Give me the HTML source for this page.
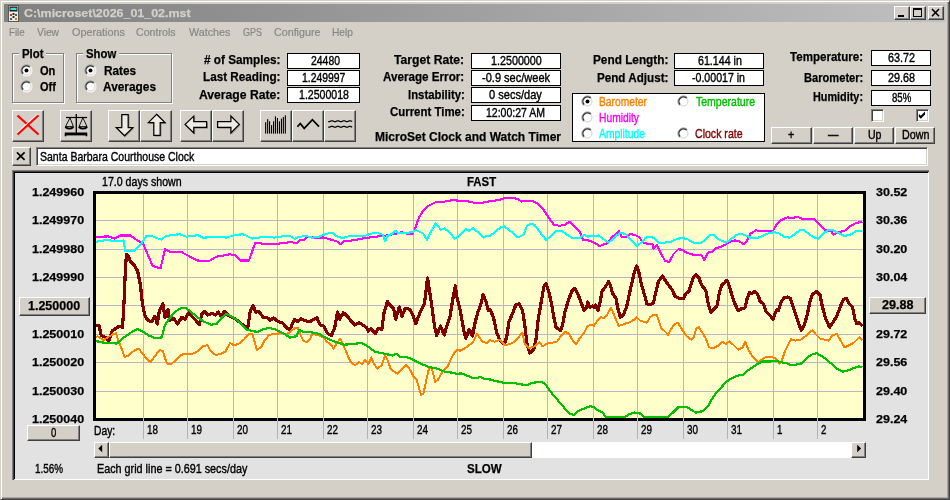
<!DOCTYPE html>
<html><head><meta charset="utf-8"><title>MicroSet</title><style>
html,body{margin:0;padding:0;}
body{width:950px;height:500px;overflow:hidden;background:#d4d0c8;position:relative;font-family:"Liberation Sans",sans-serif;}
.abs,.win,.title,.btn,.grp,.vbox,.sunk,.panel{position:absolute;box-sizing:border-box;}
.win{border:1px solid;border-color:#d4d0c8 #404040 #404040 #d4d0c8;box-shadow:inset 1px 1px 0 #fff,inset -1px -1px 0 #6c6c6c,inset -2px -2px 0 #a8a6a0;}
.title{background:linear-gradient(to right,#808080,#c0c0c0);}
.btn{background:#d4d0c8;border:1px solid;border-color:#fff #404040 #404040 #fff;box-shadow:inset -1px -1px 0 #808080,inset 1px 1px 0 #d4d0c8;}
.grp{border:1px solid #808080;box-shadow:1px 1px 0 #fff,inset 1px 1px 0 #fff;}
.vbox{background:#fff;border:1px solid #000;}
.sunk{border:1px solid;border-color:#808080 #fff #fff #808080;box-shadow:inset 1px 1px 0 #404040,inset -1px -1px 0 #d4d0c8;}
.panel{background:#e2e2e2;border-style:solid;border-width:3px 1px 1px 3px;border-color:#000 #fff #fff #000;box-shadow:inset 0 0 0 0 #000;}
.panel:before{content:"";position:absolute;left:-3px;top:-3px;right:-1px;bottom:-1px;border-left:1px solid #808080;border-top:1px solid #808080;}
.panel:after{content:"";position:absolute;left:-2px;top:-2px;right:-1px;bottom:-1px;border-left:1px solid #404040;border-top:1px solid #404040;}
.t{position:absolute;white-space:nowrap;transform-origin:0 0;-webkit-text-stroke:0.25px currentColor;}
</style></head><body>
<div class="win" style="left:0px;top:0px;width:950px;height:500px;"></div>
<div class="title" style="left:4px;top:4px;width:941px;height:18px;"></div>
<svg class="abs" style="left:7px;top:5px" width="13" height="17" viewBox="0 0 13 17">
<rect x="1.5" y="0.5" width="10" height="16" fill="#f0ead8" stroke="#5a5a50" stroke-width="1"/>
<rect x="2.5" y="1.5" width="8" height="5" fill="#202020"/>
<rect x="3.5" y="2.8" width="6" height="2.2" fill="#40d8f0"/>
<rect x="3" y="9" width="2" height="2" fill="#c03020"/><rect x="8" y="9" width="2" height="2" fill="#2060c0"/>
<rect x="5.5" y="8" width="2" height="2" fill="#303030"/><rect x="5.5" y="11" width="2" height="2" fill="#303030"/>
<rect x="3" y="13" width="2" height="2" fill="#2060c0"/><rect x="8" y="13" width="2" height="2" fill="#c08020"/>
</svg>
<div class="btn" style="left:894px;top:6px;width:16px;height:14px;"><svg width="12" height="10" style="position:absolute;left:0;top:0"><rect x="3" y="8" width="6" height="2" fill="#000"/></svg></div>
<div class="btn" style="left:910px;top:6px;width:16px;height:14px;"><svg width="12" height="10" style="position:absolute;left:0;top:0"><rect x="2.5" y="1.5" width="8" height="8" fill="none" stroke="#000"/><rect x="2" y="1" width="9" height="2" fill="#000"/></svg></div>
<div class="btn" style="left:928px;top:6px;width:16px;height:14px;"><svg width="12" height="10" style="position:absolute;left:0;top:0"><path d="M3 2 L10 9.2 M10 2 L3 9.2" stroke="#000" stroke-width="1.6" fill="none"/></svg></div>
<div class="grp" style="left:12px;top:53px;width:52px;height:50px;"></div><div class="abs" style="left:19px;top:52px;width:27px;height:4px;background:#d4d0c8;"></div>
<div class="grp" style="left:76px;top:53px;width:96px;height:50px;"></div><div class="abs" style="left:83px;top:52px;width:36px;height:4px;background:#d4d0c8;"></div>
<svg class="abs" style="left:20px;top:64px" width="13" height="13" viewBox="0 0 13 13">
<circle cx="6.5" cy="6.5" r="5.5" fill="#fff"/>
<path d="M2.6 10.4 A5.5 5.5 0 0 1 10.4 2.6" fill="none" stroke="#808080" stroke-width="1"/>
<path d="M10.4 2.6 A5.5 5.5 0 0 1 2.6 10.4" fill="none" stroke="#fff" stroke-width="1"/>
<path d="M3.3 9.7 A4.5 4.5 0 0 1 9.7 3.3" fill="none" stroke="#303030" stroke-width="1.3"/>
<path d="M9.7 3.3 A4.5 4.5 0 0 1 3.3 9.7" fill="none" stroke="#d4d0c8" stroke-width="1"/>
<circle cx="6.5" cy="6.5" r="2" fill="#000"/></svg>
<svg class="abs" style="left:20px;top:80px" width="13" height="13" viewBox="0 0 13 13">
<circle cx="6.5" cy="6.5" r="5.5" fill="#fff"/>
<path d="M2.6 10.4 A5.5 5.5 0 0 1 10.4 2.6" fill="none" stroke="#808080" stroke-width="1"/>
<path d="M10.4 2.6 A5.5 5.5 0 0 1 2.6 10.4" fill="none" stroke="#fff" stroke-width="1"/>
<path d="M3.3 9.7 A4.5 4.5 0 0 1 9.7 3.3" fill="none" stroke="#303030" stroke-width="1.3"/>
<path d="M9.7 3.3 A4.5 4.5 0 0 1 3.3 9.7" fill="none" stroke="#d4d0c8" stroke-width="1"/>
</svg>
<svg class="abs" style="left:84px;top:64px" width="13" height="13" viewBox="0 0 13 13">
<circle cx="6.5" cy="6.5" r="5.5" fill="#fff"/>
<path d="M2.6 10.4 A5.5 5.5 0 0 1 10.4 2.6" fill="none" stroke="#808080" stroke-width="1"/>
<path d="M10.4 2.6 A5.5 5.5 0 0 1 2.6 10.4" fill="none" stroke="#fff" stroke-width="1"/>
<path d="M3.3 9.7 A4.5 4.5 0 0 1 9.7 3.3" fill="none" stroke="#303030" stroke-width="1.3"/>
<path d="M9.7 3.3 A4.5 4.5 0 0 1 3.3 9.7" fill="none" stroke="#d4d0c8" stroke-width="1"/>
<circle cx="6.5" cy="6.5" r="2" fill="#000"/></svg>
<svg class="abs" style="left:84px;top:80px" width="13" height="13" viewBox="0 0 13 13">
<circle cx="6.5" cy="6.5" r="5.5" fill="#fff"/>
<path d="M2.6 10.4 A5.5 5.5 0 0 1 10.4 2.6" fill="none" stroke="#808080" stroke-width="1"/>
<path d="M10.4 2.6 A5.5 5.5 0 0 1 2.6 10.4" fill="none" stroke="#fff" stroke-width="1"/>
<path d="M3.3 9.7 A4.5 4.5 0 0 1 9.7 3.3" fill="none" stroke="#303030" stroke-width="1.3"/>
<path d="M9.7 3.3 A4.5 4.5 0 0 1 3.3 9.7" fill="none" stroke="#d4d0c8" stroke-width="1"/>
</svg>
<div class="vbox" style="left:287px;top:53px;width:73px;height:16px;"></div>
<div class="vbox" style="left:287px;top:70px;width:73px;height:16px;"></div>
<div class="vbox" style="left:287px;top:87px;width:73px;height:16px;"></div>
<div class="vbox" style="left:471px;top:53px;width:90px;height:16px;"></div>
<div class="vbox" style="left:471px;top:70px;width:90px;height:16px;"></div>
<div class="vbox" style="left:471px;top:87px;width:90px;height:16px;"></div>
<div class="vbox" style="left:471px;top:105px;width:90px;height:16px;"></div>
<div class="vbox" style="left:674px;top:53px;width:90px;height:16px;"></div>
<div class="vbox" style="left:674px;top:70px;width:90px;height:16px;"></div>
<div class="vbox" style="left:871px;top:50px;width:60px;height:16px;"></div>
<div class="vbox" style="left:871px;top:70px;width:60px;height:16px;"></div>
<div class="vbox" style="left:871px;top:90px;width:60px;height:16px;"></div>
<div class="vbox" style="left:572px;top:93px;width:193px;height:49px;"></div>
<svg class="abs" style="left:581px;top:95px" width="13" height="13" viewBox="0 0 13 13">
<circle cx="6.5" cy="6.5" r="5.5" fill="#fff"/>
<path d="M2.6 10.4 A5.5 5.5 0 0 1 10.4 2.6" fill="none" stroke="#808080" stroke-width="1"/>
<path d="M10.4 2.6 A5.5 5.5 0 0 1 2.6 10.4" fill="none" stroke="#fff" stroke-width="1"/>
<path d="M3.3 9.7 A4.5 4.5 0 0 1 9.7 3.3" fill="none" stroke="#303030" stroke-width="1.3"/>
<path d="M9.7 3.3 A4.5 4.5 0 0 1 3.3 9.7" fill="none" stroke="#d4d0c8" stroke-width="1"/>
<circle cx="6.5" cy="6.5" r="2" fill="#000"/></svg>
<svg class="abs" style="left:581px;top:111px" width="13" height="13" viewBox="0 0 13 13">
<circle cx="6.5" cy="6.5" r="5.5" fill="#fff"/>
<path d="M2.6 10.4 A5.5 5.5 0 0 1 10.4 2.6" fill="none" stroke="#808080" stroke-width="1"/>
<path d="M10.4 2.6 A5.5 5.5 0 0 1 2.6 10.4" fill="none" stroke="#fff" stroke-width="1"/>
<path d="M3.3 9.7 A4.5 4.5 0 0 1 9.7 3.3" fill="none" stroke="#303030" stroke-width="1.3"/>
<path d="M9.7 3.3 A4.5 4.5 0 0 1 3.3 9.7" fill="none" stroke="#d4d0c8" stroke-width="1"/>
</svg>
<svg class="abs" style="left:581px;top:127px" width="13" height="13" viewBox="0 0 13 13">
<circle cx="6.5" cy="6.5" r="5.5" fill="#fff"/>
<path d="M2.6 10.4 A5.5 5.5 0 0 1 10.4 2.6" fill="none" stroke="#808080" stroke-width="1"/>
<path d="M10.4 2.6 A5.5 5.5 0 0 1 2.6 10.4" fill="none" stroke="#fff" stroke-width="1"/>
<path d="M3.3 9.7 A4.5 4.5 0 0 1 9.7 3.3" fill="none" stroke="#303030" stroke-width="1.3"/>
<path d="M9.7 3.3 A4.5 4.5 0 0 1 3.3 9.7" fill="none" stroke="#d4d0c8" stroke-width="1"/>
</svg>
<svg class="abs" style="left:677px;top:95px" width="13" height="13" viewBox="0 0 13 13">
<circle cx="6.5" cy="6.5" r="5.5" fill="#fff"/>
<path d="M2.6 10.4 A5.5 5.5 0 0 1 10.4 2.6" fill="none" stroke="#808080" stroke-width="1"/>
<path d="M10.4 2.6 A5.5 5.5 0 0 1 2.6 10.4" fill="none" stroke="#fff" stroke-width="1"/>
<path d="M3.3 9.7 A4.5 4.5 0 0 1 9.7 3.3" fill="none" stroke="#303030" stroke-width="1.3"/>
<path d="M9.7 3.3 A4.5 4.5 0 0 1 3.3 9.7" fill="none" stroke="#d4d0c8" stroke-width="1"/>
</svg>
<svg class="abs" style="left:677px;top:127px" width="13" height="13" viewBox="0 0 13 13">
<circle cx="6.5" cy="6.5" r="5.5" fill="#fff"/>
<path d="M2.6 10.4 A5.5 5.5 0 0 1 10.4 2.6" fill="none" stroke="#808080" stroke-width="1"/>
<path d="M10.4 2.6 A5.5 5.5 0 0 1 2.6 10.4" fill="none" stroke="#fff" stroke-width="1"/>
<path d="M3.3 9.7 A4.5 4.5 0 0 1 9.7 3.3" fill="none" stroke="#303030" stroke-width="1.3"/>
<path d="M9.7 3.3 A4.5 4.5 0 0 1 3.3 9.7" fill="none" stroke="#d4d0c8" stroke-width="1"/>
</svg>
<div class="sunk" style="left:871px;top:109px;width:13px;height:13px;background:#fff;"><svg width="13" height="13" style="position:absolute;left:-2px;top:-2px"></svg></div>
<div class="sunk" style="left:916px;top:109px;width:13px;height:13px;background:#fff;"><svg width="13" height="13" style="position:absolute;left:-2px;top:-2px"><path d="M3.8 5.8 L5.8 7.8 L10 3.6 L10 6.6 L5.8 10.8 L3.8 8.8 Z" fill="#000"/></svg></div>
<div class="btn" style="left:771px;top:127px;width:41px;height:17px;"></div>
<div class="btn" style="left:813px;top:127px;width:40px;height:17px;"></div>
<div class="btn" style="left:854px;top:127px;width:40px;height:17px;"></div>
<div class="btn" style="left:895px;top:127px;width:40px;height:17px;"></div>
<div class="btn" style="left:12px;top:110px;width:32px;height:32px;"><svg width="32" height="32" viewBox="0 0 32 32" style="position:absolute;left:-1px;top:-1px"><path d="M5.5 5.5 L26.5 24.5" stroke="#ff0000" stroke-width="2.2"/><path d="M5 23.3 L26 4" stroke="#fff" stroke-width="1.4"/><path d="M5.5 24.5 L26.5 5.2" stroke="#ff0000" stroke-width="2.2"/></svg></div>
<div class="btn" style="left:60px;top:110px;width:32px;height:32px;"><svg width="32" height="32" viewBox="0 0 32 32" style="position:absolute;left:-1px;top:-1px"><path d="M16.3 4 V23" stroke="#000" stroke-width="1.3"/><path d="M6 7.5 H27.1" stroke="#000" stroke-width="1.2"/>
<path d="M10 7.8 L5.5 16.6 H13.4 Z" fill="none" stroke="#000" stroke-width="0.9"/><path d="M5.2 17 Q9.4 20.4 13.6 17" fill="none" stroke="#000" stroke-width="1.7"/>
<path d="M22.9 7.8 L19 16.6 H27 Z" fill="none" stroke="#000" stroke-width="0.9"/><path d="M18.7 17 Q23 20.4 27.3 17" fill="none" stroke="#000" stroke-width="1.7"/>
<rect x="4.8" y="22.5" width="22.4" height="2.9" fill="#000"/><rect x="4.8" y="24" width="1.5" height="2.3" fill="#000"/><rect x="25.7" y="24" width="1.5" height="2.3" fill="#000"/></svg></div>
<div class="btn" style="left:108px;top:110px;width:32px;height:32px;"><svg width="32" height="32" viewBox="0 0 32 32" style="position:absolute;left:-1px;top:-1px"><path d="M14.7 5.6 L21.1 5.6 L21.1 18.6 L25.7 18.6 L17.5 26.7 L9.2 18.6 L14.7 18.6 Z" fill="none" stroke="#9a968e" stroke-width="1"/><path d="M13.8 4.7 L20.2 4.7 L20.2 17.7 L24.8 17.7 L16.6 25.8 L8.3 17.7 L13.8 17.7 Z" fill="#eeebe5" stroke="#000" stroke-width="1.25" stroke-linejoin="miter"/></svg></div>
<div class="btn" style="left:140px;top:110px;width:32px;height:32px;"><svg width="32" height="32" viewBox="0 0 32 32" style="position:absolute;left:-1px;top:-1px"><path d="M17.5 5.2 L25.9 13.5 L21.1 13.5 L21.1 26.2 L14.7 26.2 L14.7 13.5 L9.3 13.5 Z" fill="none" stroke="#9a968e" stroke-width="1"/><path d="M16.6 4.3 L25 12.6 L20.2 12.6 L20.2 25.3 L13.8 25.3 L13.8 12.6 L8.4 12.6 Z" fill="#eeebe5" stroke="#000" stroke-width="1.25" stroke-linejoin="miter"/></svg></div>
<div class="btn" style="left:180px;top:110px;width:32px;height:32px;"><svg width="32" height="32" viewBox="0 0 32 32" style="position:absolute;left:-1px;top:-1px"><path d="M6 15.3 L14.7 7 L14.7 12.6 L27.5 12.6 L27.5 18.3 L14.7 18.3 L14.7 23.8 Z" fill="none" stroke="#9a968e" stroke-width="1"/><path d="M5.1 14.4 L13.8 6.1 L13.8 11.7 L26.6 11.7 L26.6 17.4 L13.8 17.4 L13.8 22.9 Z" fill="#eeebe5" stroke="#000" stroke-width="1.25" stroke-linejoin="miter"/></svg></div>
<div class="btn" style="left:212px;top:110px;width:32px;height:32px;"><svg width="32" height="32" viewBox="0 0 32 32" style="position:absolute;left:-1px;top:-1px"><path d="M28.2 15.3 L19.8 7 L19.8 12.6 L6.5 12.6 L6.5 18.3 L19.8 18.3 L19.8 23.8 Z" fill="none" stroke="#9a968e" stroke-width="1"/><path d="M27.3 14.4 L18.9 6.1 L18.9 11.7 L5.6 11.7 L5.6 17.4 L18.9 17.4 L18.9 22.9 Z" fill="#eeebe5" stroke="#000" stroke-width="1.25" stroke-linejoin="miter"/></svg></div>
<div class="btn" style="left:260px;top:110px;width:32px;height:32px;"><svg width="32" height="32" viewBox="0 0 32 32" style="position:absolute;left:-1px;top:-1px"><rect x="5.1" y="12.2" width="1.1" height="11.4" fill="#000"/><rect x="7.1" y="9.1" width="1.1" height="14.5" fill="#000"/><rect x="9.0" y="11.3" width="1.1" height="12.3" fill="#000"/><rect x="11.0" y="15.2" width="1.1" height="8.4" fill="#000"/><rect x="13.0" y="11.3" width="1.1" height="12.3" fill="#000"/><rect x="14.9" y="6.4" width="1.1" height="17.2" fill="#000"/><rect x="16.9" y="8.0" width="1.1" height="15.6" fill="#000"/><rect x="18.9" y="11.3" width="1.1" height="12.3" fill="#000"/><rect x="20.9" y="8.6" width="1.1" height="15.0" fill="#000"/><rect x="22.8" y="7.0" width="1.1" height="16.6" fill="#000"/><rect x="24.8" y="5.3" width="1.1" height="18.3" fill="#000"/></svg></div>
<div class="btn" style="left:292px;top:110px;width:32px;height:32px;"><svg width="32" height="32" viewBox="0 0 32 32" style="position:absolute;left:-1px;top:-1px"><path d="M5.4 16.8 L8.3 13.5 L12.2 18.4 L20.4 9.7 L27 16.6" fill="none" stroke="#000" stroke-width="1.7"/></svg></div>
<div class="btn" style="left:324px;top:110px;width:32px;height:32px;"><svg width="32" height="32" viewBox="0 0 32 32" style="position:absolute;left:-1px;top:-1px"><path d="M4.2 11.5 L5.7 11.5 L7.2 10.8 L8.7 10.8 L10.2 11.5 L11.7 11.5 L13.2 10.8 L14.7 10.8 L16.2 11.5 L17.7 11.5 L19.2 10.8 L20.7 10.8 L22.2 11.5 L23.7 11.5 L25.2 10.8 L26.7 10.8 L28.2 11.5" fill="none" stroke="#000" stroke-width="1.25"/><path d="M4.2 17.2 L5.7 17.2 L7.2 16.4 L8.7 16.4 L10.2 17.2 L11.7 17.2 L13.2 16.4 L14.7 16.4 L16.2 17.2 L17.7 17.2 L19.2 16.4 L20.7 16.4 L22.2 17.2 L23.7 17.2 L25.2 16.4 L26.7 16.4 L28.2 17.2" fill="none" stroke="#000" stroke-width="1.25"/></svg></div>
<div class="btn" style="left:12px;top:147px;width:19px;height:19px;"><svg width="19" height="19" style="position:absolute;left:-1px;top:-1px"><path d="M4.9 5.3 L12.6 12.8 M12.6 5.3 L4.9 12.8" stroke="#000" stroke-width="1.7"/></svg></div>
<div class="sunk" style="left:36px;top:147px;width:892px;height:19px;background:#fff;"></div>
<div class="panel" style="left:12px;top:170px;width:917px;height:310px;"></div>
<div class="abs" style="left:93px;top:191px;width:773px;height:230px;background:#000;"></div>
<div class="abs" style="left:96px;top:194px;width:767px;height:224px;background:#ffffcc;"></div>
<div class="abs" style="left:143px;top:194px;width:1px;height:224px;background:#b9b6c6;"></div><div class="abs" style="left:187px;top:194px;width:1px;height:224px;background:#b9b6c6;"></div><div class="abs" style="left:233px;top:194px;width:1px;height:224px;background:#b9b6c6;"></div><div class="abs" style="left:277px;top:194px;width:1px;height:224px;background:#b9b6c6;"></div><div class="abs" style="left:323px;top:194px;width:1px;height:224px;background:#b9b6c6;"></div><div class="abs" style="left:367px;top:194px;width:1px;height:224px;background:#b9b6c6;"></div><div class="abs" style="left:413px;top:194px;width:1px;height:224px;background:#b9b6c6;"></div><div class="abs" style="left:457px;top:194px;width:1px;height:224px;background:#b9b6c6;"></div><div class="abs" style="left:503px;top:194px;width:1px;height:224px;background:#b9b6c6;"></div><div class="abs" style="left:547px;top:194px;width:1px;height:224px;background:#b9b6c6;"></div><div class="abs" style="left:593px;top:194px;width:1px;height:224px;background:#b9b6c6;"></div><div class="abs" style="left:637px;top:194px;width:1px;height:224px;background:#b9b6c6;"></div><div class="abs" style="left:683px;top:194px;width:1px;height:224px;background:#b9b6c6;"></div><div class="abs" style="left:727px;top:194px;width:1px;height:224px;background:#b9b6c6;"></div><div class="abs" style="left:773px;top:194px;width:1px;height:224px;background:#b9b6c6;"></div><div class="abs" style="left:817px;top:194px;width:1px;height:224px;background:#b9b6c6;"></div><div class="abs" style="left:96px;top:220px;width:767px;height:1px;background:#b9b6c6;"></div><div class="abs" style="left:96px;top:249px;width:767px;height:1px;background:#b9b6c6;"></div><div class="abs" style="left:96px;top:277px;width:767px;height:1px;background:#b9b6c6;"></div><div class="abs" style="left:96px;top:305px;width:767px;height:1px;background:#b9b6c6;"></div><div class="abs" style="left:96px;top:334px;width:767px;height:1px;background:#b9b6c6;"></div><div class="abs" style="left:96px;top:362px;width:767px;height:1px;background:#b9b6c6;"></div><div class="abs" style="left:96px;top:391px;width:767px;height:1px;background:#b9b6c6;"></div>
<div class="abs" style="left:93px;top:418px;width:773px;height:3px;background:#000;"></div>
<div class="abs" style="left:143px;top:418px;width:1px;height:3px;background:#c4c2d2;"></div><div class="abs" style="left:143px;top:421px;width:1px;height:18px;background:#b2b2b2;"></div><div class="abs" style="left:187px;top:418px;width:1px;height:3px;background:#c4c2d2;"></div><div class="abs" style="left:187px;top:421px;width:1px;height:18px;background:#b2b2b2;"></div><div class="abs" style="left:233px;top:418px;width:1px;height:3px;background:#c4c2d2;"></div><div class="abs" style="left:233px;top:421px;width:1px;height:18px;background:#b2b2b2;"></div><div class="abs" style="left:277px;top:418px;width:1px;height:3px;background:#c4c2d2;"></div><div class="abs" style="left:277px;top:421px;width:1px;height:18px;background:#b2b2b2;"></div><div class="abs" style="left:323px;top:418px;width:1px;height:3px;background:#c4c2d2;"></div><div class="abs" style="left:323px;top:421px;width:1px;height:18px;background:#b2b2b2;"></div><div class="abs" style="left:367px;top:418px;width:1px;height:3px;background:#c4c2d2;"></div><div class="abs" style="left:367px;top:421px;width:1px;height:18px;background:#b2b2b2;"></div><div class="abs" style="left:413px;top:418px;width:1px;height:3px;background:#c4c2d2;"></div><div class="abs" style="left:413px;top:421px;width:1px;height:18px;background:#b2b2b2;"></div><div class="abs" style="left:457px;top:418px;width:1px;height:3px;background:#c4c2d2;"></div><div class="abs" style="left:457px;top:421px;width:1px;height:18px;background:#b2b2b2;"></div><div class="abs" style="left:503px;top:418px;width:1px;height:3px;background:#c4c2d2;"></div><div class="abs" style="left:503px;top:421px;width:1px;height:18px;background:#b2b2b2;"></div><div class="abs" style="left:547px;top:418px;width:1px;height:3px;background:#c4c2d2;"></div><div class="abs" style="left:547px;top:421px;width:1px;height:18px;background:#b2b2b2;"></div><div class="abs" style="left:593px;top:418px;width:1px;height:3px;background:#c4c2d2;"></div><div class="abs" style="left:593px;top:421px;width:1px;height:18px;background:#b2b2b2;"></div><div class="abs" style="left:637px;top:418px;width:1px;height:3px;background:#c4c2d2;"></div><div class="abs" style="left:637px;top:421px;width:1px;height:18px;background:#b2b2b2;"></div><div class="abs" style="left:683px;top:418px;width:1px;height:3px;background:#c4c2d2;"></div><div class="abs" style="left:683px;top:421px;width:1px;height:18px;background:#b2b2b2;"></div><div class="abs" style="left:727px;top:418px;width:1px;height:3px;background:#c4c2d2;"></div><div class="abs" style="left:727px;top:421px;width:1px;height:18px;background:#b2b2b2;"></div><div class="abs" style="left:773px;top:418px;width:1px;height:3px;background:#c4c2d2;"></div><div class="abs" style="left:773px;top:421px;width:1px;height:18px;background:#b2b2b2;"></div><div class="abs" style="left:817px;top:418px;width:1px;height:3px;background:#c4c2d2;"></div><div class="abs" style="left:817px;top:421px;width:1px;height:18px;background:#b2b2b2;"></div>
<svg class="abs" style="left:96px;top:194px" width="767" height="224" viewBox="96 194 767 224" shape-rendering="crispEdges"><path d="M94.5 325.1 L99.0 325.6 L101.2 335.2 L105.7 337.4 L109.0 340.8 L111.3 334.0 L112.4 330.7 L115.8 328.5 L119.1 326.2 L122.5 327.3 L123.6 311.7 L125.4 269.1 L126.5 254.6 L128.1 255.7 L130.3 261.3 L134.8 265.8 L137.7 271.4 L140.4 284.8 L142.6 305.0 L144.9 315.0 L147.8 320.6 L151.6 321.7 L155.0 316.1 L157.2 324.0 L159.4 310.5 L162.8 303.8 L165.0 317.3 L167.9 309.4 L169.5 320.6 L174.0 318.4 L177.3 324.0 L181.8 317.3 L185.2 319.5 L188.5 312.8 L194.1 318.4 L199.3 324.7 L202.0 313.9 L204.2 311.2 L207.6 315.0 L212.1 313.5 L215.4 315.0 L218.1 312.1 L221.0 316.1 L224.4 311.2 L228.9 315.7 L234.5 318.4 L238.9 321.7 L244.5 326.2 L247.9 327.3 L250.1 311.7 L253.0 305.4 L255.7 312.1 L259.1 311.7 L263.6 317.9 L266.9 317.3 L270.3 320.2 L273.7 317.9 L278.1 321.7 L282.6 322.9 L287.1 328.5 L290.0 329.4 L294.5 319.4 L297.8 321.6 L301.2 318.7 L305.7 320.9 L310.2 321.6 L313.5 319.4 L316.9 317.8 L320.2 325.0 L323.6 326.1 L327.0 332.8 L331.4 335.7 L334.8 327.2 L337.5 312.0 L339.7 319.4 L343.3 312.6 L347.1 316.0 L351.6 321.6 L355.0 325.0 L359.4 322.7 L362.8 325.0 L366.1 327.2 L368.4 331.2 L371.1 328.3 L375.1 333.9 L378.5 328.3 L381.8 329.4 L384.1 312.6 L387.4 301.4 L390.8 305.9 L393.5 308.2 L395.7 319.4 L399.3 307.0 L402.0 316.0 L405.3 308.2 L409.8 309.3 L413.2 316.0 L415.9 323.8 L419.9 312.6 L424.4 303.7 L426.2 289.1 L427.5 277.9 L429.3 289.1 L431.5 303.7 L434.5 326.1 L436.7 335.7 L440.5 326.1 L444.1 335.0 L447.9 322.7 L450.1 316.0 L452.4 301.4 L455.3 285.8 L456.9 297.0 L460.2 310.4 L463.6 329.4 L465.8 338.4 L469.2 329.4 L472.5 336.1 L474.8 323.8 L477.7 312.6 L480.4 305.9 L483.1 294.7 L486.0 301.4 L488.2 310.4 L490.0 309.4 L493.4 317.2 L496.7 332.9 L500.1 340.7 L504.6 344.1 L506.8 336.2 L509.0 321.7 L512.4 313.8 L515.8 304.9 L519.1 303.8 L522.5 310.5 L524.7 323.9 L527.0 344.1 L529.9 353.0 L533.7 349.7 L535.9 339.6 L538.2 319.4 L541.1 302.6 L543.8 287.0 L546.0 283.6 L548.7 291.4 L551.6 303.8 L553.8 317.2 L556.1 327.3 L560.5 330.6 L562.8 323.9 L565.0 311.6 L568.4 300.4 L571.7 291.4 L574.7 288.5 L577.8 293.7 L580.7 301.5 L584.1 310.5 L586.3 308.2 L587.9 302.0 L589.7 307.1 L592.6 306.0 L594.1 307.8 L595.7 304.9 L598.0 310.5 L600.2 301.5 L602.0 291.4 L605.3 287.0 L608.7 281.4 L610.9 287.0 L612.7 293.7 L615.9 298.2 L618.1 309.4 L620.3 317.2 L623.3 314.9 L626.6 307.1 L628.9 295.9 L631.5 284.7 L634.5 271.3 L636.7 266.1 L638.9 272.4 L641.2 283.6 L644.5 294.8 L646.8 303.8 L650.1 304.9 L653.5 302.6 L655.7 292.6 L658.4 281.4 L662.5 275.8 L665.8 281.4 L669.2 285.8 L672.5 290.3 L674.8 295.9 L679.2 298.2 L683.4 298.8 L685.6 293.7 L689.0 291.4 L691.2 283.6 L693.9 276.4 L695.7 274.6 L699.0 278.0 L701.3 284.7 L705.8 290.3 L708.0 302.6 L710.9 312.7 L713.6 309.4 L717.0 306.0 L719.2 293.7 L721.4 285.8 L724.8 282.5 L727.0 280.2 L729.7 287.0 L732.0 295.9 L734.9 303.8 L738.2 310.5 L741.6 308.7 L744.9 307.8 L747.2 298.2 L749.4 292.6 L751.7 293.7 L755.0 291.4 L757.9 294.8 L760.2 301.5 L763.3 303.8 L766.2 311.6 L769.6 314.9 L772.9 319.4 L775.2 312.7 L777.4 309.4 L778.5 310.5 L781.2 302.0 L784.1 297.7 L787.5 297.0 L790.2 298.2 L792.4 304.9 L795.3 313.8 L798.7 323.9 L801.4 330.2 L804.3 325.0 L807.2 314.9 L809.9 301.5 L812.1 294.8 L816.6 291.4 L820.0 294.8 L822.2 306.0 L825.6 318.3 L829.6 327.3 L833.4 321.7 L836.8 316.1 L840.1 307.1 L843.5 299.3 L846.2 298.2 L849.1 303.8 L852.5 307.1 L854.7 318.3 L856.9 323.9 L859.2 322.8 L861.4 325.0" fill="none" stroke="#800000" stroke-width="3.2" stroke-linejoin="round" stroke-linecap="square"/><path d="M94.5 336.9 L97.8 336.4 L103.4 340.2 L107.9 337.3 L112.4 334.6 L115.8 333.1 L118.0 339.1 L121.4 348.1 L124.7 357.0 L128.1 355.9 L131.4 352.6 L134.8 350.3 L138.8 348.5 L142.6 353.7 L147.1 359.3 L150.9 362.0 L155.0 355.9 L159.4 350.3 L162.8 350.8 L165.0 358.2 L167.3 363.8 L171.7 363.8 L176.2 359.7 L179.6 355.9 L184.1 353.7 L189.7 354.3 L195.3 353.0 L199.7 349.2 L203.1 345.8 L207.6 345.4 L210.9 351.4 L215.4 354.8 L219.9 354.3 L225.5 351.4 L230.0 343.1 L234.5 345.4 L238.9 343.6 L244.5 339.1 L249.0 333.5 L252.4 334.2 L256.9 349.9 L261.3 347.0 L264.7 340.2 L269.2 335.1 L273.7 333.5 L277.0 334.6 L280.4 332.4 L286.0 334.6 L290.0 332.0 L294.5 328.3 L297.8 327.6 L300.1 333.9 L303.4 340.6 L306.8 342.4 L310.2 338.4 L312.4 333.9 L318.0 335.0 L323.6 337.9 L327.0 341.7 L330.3 344.0 L333.7 348.5 L337.0 342.9 L340.4 338.8 L343.8 346.2 L347.1 354.1 L350.5 361.9 L355.0 365.3 L359.4 361.9 L361.7 364.1 L365.0 360.3 L368.4 364.1 L371.1 357.4 L374.0 364.1 L377.3 368.6 L381.8 365.3 L385.2 355.2 L387.4 359.7 L390.8 369.3 L394.1 371.6 L397.5 373.8 L402.0 369.3 L406.5 364.9 L409.8 369.3 L413.2 376.1 L416.5 379.4 L418.8 387.3 L421.0 394.7 L423.3 394.0 L425.5 383.9 L427.7 373.8 L429.3 367.1 L432.2 369.3 L435.1 381.7 L437.8 379.9 L441.2 373.8 L444.5 369.3 L447.9 366.0 L451.3 358.2 L454.6 352.6 L456.9 349.6 L460.2 350.7 L464.7 348.5 L469.2 345.1 L472.5 342.9 L477.0 333.9 L479.3 337.3 L482.6 341.7 L487.1 343.3 L490.0 340.0 L494.5 341.8 L500.1 339.6 L504.6 345.2 L510.2 344.1 L515.8 340.7 L520.2 335.1 L522.5 332.9 L524.7 344.1 L529.2 348.1 L534.8 346.3 L539.3 342.3 L542.6 346.3 L547.1 343.6 L553.8 342.3 L557.2 341.4 L561.7 335.1 L565.0 331.7 L568.4 333.3 L572.9 340.7 L576.2 344.1 L579.6 338.5 L584.1 332.9 L587.4 326.1 L590.8 325.0 L594.1 325.7 L597.5 320.5 L600.9 317.2 L604.2 318.3 L607.6 313.8 L610.9 307.8 L613.2 312.7 L615.4 318.3 L618.8 326.1 L624.4 323.9 L630.0 322.1 L634.5 319.4 L636.7 317.2 L640.1 320.5 L643.4 321.7 L646.8 322.8 L650.1 317.2 L653.5 314.9 L656.9 314.9 L659.1 321.7 L661.3 328.4 L664.7 331.1 L668.0 334.7 L671.4 328.4 L674.8 323.9 L678.1 322.8 L680.0 326.1 L683.4 331.7 L686.7 336.2 L691.2 339.6 L693.9 337.3 L696.1 328.4 L699.0 327.3 L702.4 332.9 L705.8 338.5 L709.1 347.4 L713.6 348.1 L719.2 345.2 L722.6 341.8 L725.9 344.1 L729.3 341.4 L733.8 345.2 L738.2 349.7 L742.7 347.4 L745.4 341.8 L748.3 349.7 L751.7 355.3 L756.1 359.7 L758.4 362.0 L765.1 357.5 L770.7 356.6 L776.3 358.8 L779.7 363.8 L781.9 360.4 L785.3 350.3 L790.9 339.3 L795.3 340.7 L800.9 339.6 L805.4 336.2 L808.8 332.9 L812.6 330.2 L815.5 334.0 L820.0 338.5 L824.5 339.6 L828.9 340.7 L832.3 335.1 L836.8 334.0 L840.1 339.6 L844.6 347.4 L849.1 345.2 L853.6 342.9 L856.9 339.6 L859.2 337.3 L861.4 339.6" fill="none" stroke="#ff8000" stroke-width="2" stroke-linejoin="round" stroke-linecap="square"/><path d="M94.5 237.0 L108.0 236.4 L114.6 238.6 L120.2 235.5 L130.3 235.5 L138.2 241.0 L142.6 242.6 L152.7 266.0 L160.5 268.4 L165.0 249.4 L169.5 251.6 L181.8 252.3 L197.5 260.5 L208.7 261.2 L216.5 256.7 L230.0 254.3 L235.6 255.4 L240.0 260.5 L249.0 260.5 L255.3 242.6 L267.0 244.4 L282.6 243.3 L290.0 242.0 L296.7 243.1 L300.1 239.7 L304.6 239.7 L306.8 236.6 L314.6 237.5 L323.6 237.5 L331.4 239.7 L337.0 241.5 L340.4 244.4 L343.8 241.1 L352.7 240.4 L361.7 238.6 L372.9 237.0 L384.1 235.9 L393.0 234.3 L402.0 232.1 L406.5 233.7 L412.7 233.7 L415.4 228.1 L418.8 218.0 L423.3 210.2 L427.7 206.1 L435.6 202.3 L444.5 201.6 L452.4 200.1 L460.2 200.8 L469.2 201.6 L477.0 203.4 L484.9 202.3 L490.0 201.2 L499.0 200.1 L505.7 197.8 L512.4 197.8 L518.0 199.0 L521.4 201.6 L527.0 200.5 L532.6 201.2 L538.2 203.9 L543.8 210.2 L548.2 216.9 L553.8 224.7 L559.4 225.8 L565.0 224.7 L569.5 221.8 L574.0 226.3 L579.6 231.4 L583.0 239.7 L588.5 240.4 L593.0 242.0 L599.7 246.0 L604.2 244.2 L607.6 243.3 L612.1 237.0 L616.5 233.7 L618.8 230.8 L622.1 237.5 L625.5 237.0 L630.0 234.1 L634.5 234.8 L638.9 237.0 L643.4 242.6 L649.0 244.2 L652.4 243.7 L653.5 248.7 L656.9 244.9 L660.2 251.6 L664.7 260.5 L669.2 262.1 L673.7 253.8 L678.1 249.4 L682.0 249.6 L686.7 252.7 L693.4 254.9 L701.3 254.9 L704.2 259.9 L708.0 252.7 L712.5 251.6 L715.8 248.2 L720.3 247.1 L725.9 244.2 L730.4 241.5 L734.9 240.4 L739.4 241.5 L743.8 244.2 L747.2 240.4 L750.5 233.7 L756.1 230.3 L760.6 231.4 L767.3 231.0 L772.9 231.0 L776.3 224.7 L780.8 220.2 L787.5 217.3 L792.0 218.0 L797.6 216.9 L802.1 218.7 L807.7 219.1 L814.4 219.1 L820.0 224.7 L825.6 230.3 L831.2 231.4 L833.4 234.8 L836.8 232.6 L844.6 230.8 L850.2 226.3 L855.8 223.1 L861.4 222.0" fill="none" stroke="#ff00ff" stroke-width="2.1" stroke-linejoin="round" stroke-linecap="square"/><path d="M94.5 242.0 L108.0 239.7 L112.4 241.0 L121.4 241.0 L123.6 240.4 L125.2 251.0 L134.8 250.5 L140.4 244.9 L146.0 236.4 L152.7 236.4 L157.2 238.2 L161.7 239.7 L165.0 236.6 L172.9 234.8 L179.6 234.3 L186.3 236.6 L197.5 235.2 L203.1 237.7 L215.4 237.0 L226.6 237.5 L235.6 234.8 L243.4 234.3 L252.4 238.6 L262.5 237.0 L270.3 236.6 L273.7 237.7 L282.6 236.4 L290.0 235.9 L294.5 238.8 L299.0 237.0 L305.7 235.9 L312.4 237.7 L319.1 236.6 L327.0 233.7 L332.6 232.6 L335.9 235.9 L342.6 238.2 L348.2 236.4 L357.2 235.9 L363.9 236.4 L369.5 234.1 L376.2 232.6 L382.9 234.8 L385.2 241.5 L387.4 235.9 L391.9 233.7 L395.3 230.8 L398.6 233.2 L406.5 233.0 L412.7 232.1 L415.9 229.9 L423.3 233.7 L427.1 239.7 L431.1 231.4 L435.6 223.6 L441.2 229.9 L444.5 228.5 L450.1 232.6 L454.6 238.8 L459.1 235.9 L465.8 229.2 L469.2 230.8 L473.2 228.1 L477.0 231.4 L483.7 237.5 L487.1 235.9 L490.0 235.9 L494.5 232.6 L500.1 227.6 L504.6 226.5 L510.2 230.8 L518.0 237.5 L523.6 234.8 L527.0 225.8 L531.4 223.6 L534.8 225.2 L541.5 234.1 L546.0 239.7 L550.5 237.0 L556.1 231.0 L561.7 230.8 L567.3 234.8 L572.9 238.2 L579.6 238.2 L584.1 234.8 L587.4 236.6 L593.0 235.9 L598.6 235.5 L604.2 239.7 L608.7 242.6 L613.2 238.8 L617.7 234.8 L621.0 232.6 L626.6 234.8 L631.1 240.4 L636.7 246.0 L641.2 242.6 L645.7 237.7 L651.3 236.6 L655.7 239.3 L659.1 243.1 L664.7 242.6 L671.4 241.5 L678.1 238.6 L682.0 238.2 L686.7 238.8 L693.4 242.6 L701.3 242.6 L705.8 239.7 L710.2 235.2 L714.7 235.5 L719.2 239.7 L725.9 242.6 L730.4 239.7 L736.0 235.2 L740.5 233.7 L746.1 235.5 L750.5 237.5 L756.1 238.2 L761.7 236.6 L767.3 233.7 L774.1 232.1 L779.7 233.7 L784.1 237.0 L789.7 237.7 L795.3 233.7 L799.8 230.3 L804.3 230.3 L809.9 234.8 L815.5 238.2 L818.9 238.6 L823.3 233.7 L827.8 230.3 L833.4 230.3 L839.0 233.2 L844.6 235.9 L850.2 234.8 L855.8 231.4 L861.4 230.8" fill="none" stroke="#00ffff" stroke-width="2.1" stroke-linejoin="round" stroke-linecap="square"/><path d="M94.5 340.8 L103.4 342.6 L116.9 343.5 L122.5 338.5 L130.3 332.9 L137.0 329.1 L141.5 330.7 L148.2 335.2 L155.0 338.1 L161.7 337.4 L165.0 325.1 L169.5 318.4 L175.1 311.7 L181.8 307.6 L186.3 308.3 L190.8 311.7 L197.5 317.3 L204.2 321.7 L210.9 324.7 L216.5 324.0 L222.1 317.3 L226.6 313.9 L233.3 317.3 L238.9 321.7 L246.8 329.6 L253.5 331.4 L258.0 331.8 L262.5 329.6 L269.2 327.8 L275.9 329.6 L282.6 332.9 L290.0 337.7 L296.7 336.1 L299.0 329.9 L303.4 331.7 L310.2 332.1 L319.1 333.9 L327.0 338.4 L334.8 341.7 L343.8 344.7 L352.7 344.0 L361.7 342.9 L367.3 346.2 L375.1 351.8 L384.1 353.7 L393.0 355.5 L396.4 353.7 L399.7 356.6 L406.5 357.0 L412.1 359.3 L419.9 363.3 L428.9 367.1 L437.8 368.7 L444.5 371.6 L452.4 372.7 L456.9 373.8 L461.3 373.4 L466.9 375.6 L473.7 378.3 L480.4 377.2 L484.9 379.0 L490.0 379.5 L496.7 381.2 L503.4 382.8 L512.4 382.8 L521.4 384.4 L527.0 385.0 L532.6 382.8 L538.2 382.1 L542.6 382.3 L546.0 385.0 L550.5 391.7 L557.2 399.6 L563.9 407.4 L569.5 413.5 L574.0 414.8 L578.5 410.8 L584.1 408.5 L589.7 406.3 L594.1 406.8 L597.5 410.3 L602.0 411.9 L606.5 417.5 L624.4 417.5 L628.9 414.1 L634.5 412.6 L640.1 413.5 L644.5 417.5 L666.9 417.5 L672.5 413.0 L678.1 407.4 L684.9 406.8 L686.7 406.8 L691.2 409.7 L695.7 412.6 L702.4 411.2 L708.0 406.3 L713.6 396.2 L720.3 388.4 L727.0 381.2 L733.8 377.2 L739.4 375.0 L742.7 375.0 L749.4 369.3 L756.1 364.9 L762.9 361.5 L769.6 361.5 L776.3 360.8 L783.0 362.6 L787.5 363.3 L792.0 365.5 L796.5 364.4 L802.1 363.3 L806.5 358.2 L811.0 354.8 L816.6 353.2 L823.3 357.0 L830.1 362.6 L835.7 367.8 L842.4 371.6 L846.9 370.9 L853.6 368.2 L859.2 366.4 L861.4 367.1" fill="none" stroke="#00c000" stroke-width="2.2" stroke-linejoin="round" stroke-linecap="square"/></svg>
<div class="btn" style="left:19px;top:297px;width:71px;height:19px;"></div>
<div class="btn" style="left:869px;top:297px;width:57px;height:17px;"></div>
<div class="btn" style="left:27px;top:425px;width:53px;height:16px;"></div>
<div class="abs" style="left:94px;top:442px;width:772px;height:16px;background:#fff;"></div>
<div class="btn" style="left:94px;top:442px;width:15px;height:16px;"><svg width="15" height="16" style="position:absolute;left:-1px;top:-1px"><path d="M8.2 2.8 L8.2 10.2 L4.3 6.5 Z" fill="#000"/></svg></div>
<div class="btn" style="left:851px;top:442px;width:15px;height:16px;"><svg width="15" height="16" style="position:absolute;left:-1px;top:-1px"><path d="M6.2 2.8 L6.2 10.2 L10.1 6.5 Z" fill="#000"/></svg></div>
<div class="btn" style="left:109px;top:442px;width:423px;height:16px;"></div>
<div style="position:absolute;left:0;top:0;width:950px;height:500px;will-change:transform"><span class="t" id="t0" style="left:24.00px;top:8px;font-size:11.59px;line-height:11.59px;color:#d4d0c8;font-weight:bold;transform:scaleX(1.0740);">C:\microset\2026_01_02.mst</span>
<span class="t" id="t1" style="left:9.30px;top:27px;font-size:11.59px;line-height:11.59px;color:#868686;-webkit-text-stroke-width:0.4px;-webkit-text-stroke-width:0.2px;transform:scaleX(0.8415);">File</span>
<span class="t" id="t2" style="left:37.40px;top:27px;font-size:11.59px;line-height:11.59px;color:#868686;-webkit-text-stroke-width:0.4px;-webkit-text-stroke-width:0.2px;transform:scaleX(0.8839);">View</span>
<span class="t" id="t3" style="left:71.50px;top:27px;font-size:11.59px;line-height:11.59px;color:#868686;-webkit-text-stroke-width:0.4px;-webkit-text-stroke-width:0.2px;transform:scaleX(0.9322);">Operations</span>
<span class="t" id="t4" style="left:136.40px;top:27px;font-size:11.59px;line-height:11.59px;color:#868686;-webkit-text-stroke-width:0.4px;-webkit-text-stroke-width:0.2px;transform:scaleX(0.9183);">Controls</span>
<span class="t" id="t5" style="left:188.70px;top:27px;font-size:11.59px;line-height:11.59px;color:#868686;-webkit-text-stroke-width:0.4px;-webkit-text-stroke-width:0.2px;transform:scaleX(0.9255);">Watches</span>
<span class="t" id="t6" style="left:242.50px;top:27px;font-size:11.59px;line-height:11.59px;color:#868686;-webkit-text-stroke-width:0.4px;-webkit-text-stroke-width:0.2px;transform:scaleX(0.7770);">GPS</span>
<span class="t" id="t7" style="left:273.60px;top:27px;font-size:11.59px;line-height:11.59px;color:#868686;-webkit-text-stroke-width:0.4px;-webkit-text-stroke-width:0.2px;transform:scaleX(0.9242);">Configure</span>
<span class="t" id="t8" style="left:332.00px;top:27px;font-size:11.59px;line-height:11.59px;color:#868686;-webkit-text-stroke-width:0.4px;-webkit-text-stroke-width:0.2px;transform:scaleX(0.8819);">Help</span>
<span class="t" id="t9" style="left:21.50px;top:47px;font-size:13.04px;line-height:13.04px;color:#000;font-weight:bold;transform:scaleX(0.8731);">Plot</span>
<span class="t" id="t10" style="left:85.80px;top:47px;font-size:13.04px;line-height:13.04px;color:#000;font-weight:bold;transform:scaleX(0.8691);">Show</span>
<span class="t" id="t11" style="left:40.00px;top:64px;font-size:13.04px;line-height:13.04px;color:#000;font-weight:bold;transform:scaleX(0.8504);">On</span>
<span class="t" id="t12" style="left:40.00px;top:80px;font-size:13.04px;line-height:13.04px;color:#000;font-weight:bold;transform:scaleX(0.8392);">Off</span>
<span class="t" id="t13" style="left:103.80px;top:64px;font-size:13.04px;line-height:13.04px;color:#000;font-weight:bold;transform:scaleX(0.9070);">Rates</span>
<span class="t" id="t14" style="left:103.00px;top:80px;font-size:13.04px;line-height:13.04px;color:#000;font-weight:bold;transform:scaleX(0.9106);">Averages</span>
<span class="t" id="t15" style="left:203.80px;top:53px;font-size:13.04px;line-height:13.04px;color:#000;font-weight:bold;transform:scaleX(0.9028);"># of Samples:</span>
<span class="t" id="t16" style="left:202.80px;top:70px;font-size:13.04px;line-height:13.04px;color:#000;font-weight:bold;transform:scaleX(0.8994);">Last Reading:</span>
<span class="t" id="t17" style="left:199.00px;top:88px;font-size:13.04px;line-height:13.04px;color:#000;font-weight:bold;transform:scaleX(0.9328);">Average Rate:</span>
<span class="t" id="t18" style="left:311.00px;top:54px;font-size:13.04px;line-height:13.04px;color:#000;-webkit-text-stroke-width:0.4px;transform:scaleX(0.8000);">24480</span>
<span class="t" id="t19" style="left:301.60px;top:71px;font-size:13.04px;line-height:13.04px;color:#000;-webkit-text-stroke-width:0.4px;transform:scaleX(0.7984);">1.249997</span>
<span class="t" id="t20" style="left:299.00px;top:88px;font-size:13.04px;line-height:13.04px;color:#000;-webkit-text-stroke-width:0.4px;transform:scaleX(0.8116);">1.2500018</span>
<span class="t" id="t21" style="left:394.40px;top:53px;font-size:13.04px;line-height:13.04px;color:#000;font-weight:bold;transform:scaleX(0.9337);">Target Rate:</span>
<span class="t" id="t22" style="left:383.30px;top:70px;font-size:13.04px;line-height:13.04px;color:#000;font-weight:bold;transform:scaleX(0.8945);">Average Error:</span>
<span class="t" id="t23" style="left:407.70px;top:88px;font-size:13.04px;line-height:13.04px;color:#000;font-weight:bold;transform:scaleX(0.8715);">Instability:</span>
<span class="t" id="t24" style="left:389.80px;top:105px;font-size:13.04px;line-height:13.04px;color:#000;font-weight:bold;transform:scaleX(0.8767);">Current Time:</span>
<span class="t" id="t25" style="left:490.60px;top:54px;font-size:13.04px;line-height:13.04px;color:#000;-webkit-text-stroke-width:0.4px;transform:scaleX(0.8245);">1.2500000</span>
<span class="t" id="t26" style="left:481.50px;top:71px;font-size:13.04px;line-height:13.04px;color:#000;-webkit-text-stroke-width:0.4px;transform:scaleX(0.8469);">-0.9 sec/week</span>
<span class="t" id="t27" style="left:489.40px;top:88px;font-size:13.04px;line-height:13.04px;color:#000;-webkit-text-stroke-width:0.4px;transform:scaleX(0.8492);">0 secs/day</span>
<span class="t" id="t28" style="left:486.00px;top:106px;font-size:13.04px;line-height:13.04px;color:#000;-webkit-text-stroke-width:0.4px;transform:scaleX(0.8061);">12:00:27 AM</span>
<span class="t" id="t29" style="left:375.00px;top:130px;font-size:13.04px;line-height:13.04px;color:#000;font-weight:bold;transform:scaleX(0.9206);">MicroSet Clock and Watch Timer</span>
<span class="t" id="t30" style="left:592.60px;top:53px;font-size:13.04px;line-height:13.04px;color:#000;font-weight:bold;transform:scaleX(0.9057);">Pend Length:</span>
<span class="t" id="t31" style="left:596.60px;top:71px;font-size:13.04px;line-height:13.04px;color:#000;font-weight:bold;transform:scaleX(0.8939);">Pend Adjust:</span>
<span class="t" id="t32" style="left:697.60px;top:54px;font-size:13.04px;line-height:13.04px;color:#000;-webkit-text-stroke-width:0.4px;transform:scaleX(0.8168);">61.144 in</span>
<span class="t" id="t33" style="left:692.00px;top:71px;font-size:13.04px;line-height:13.04px;color:#000;-webkit-text-stroke-width:0.4px;transform:scaleX(0.8126);">-0.00017 in</span>
<span class="t" id="t34" style="left:599.00px;top:95px;font-size:13.04px;line-height:13.04px;color:#ff8000;-webkit-text-stroke-width:0.4px;transform:scaleX(0.7889);">Barometer</span>
<span class="t" id="t35" style="left:696.00px;top:95px;font-size:13.04px;line-height:13.04px;color:#00c000;-webkit-text-stroke-width:0.4px;transform:scaleX(0.8065);">Temperature</span>
<span class="t" id="t36" style="left:599.00px;top:111px;font-size:13.04px;line-height:13.04px;color:#ff00ff;-webkit-text-stroke-width:0.4px;transform:scaleX(0.7891);">Humidity</span>
<span class="t" id="t37" style="left:599.00px;top:127px;font-size:13.04px;line-height:13.04px;color:#00ffff;-webkit-text-stroke-width:0.4px;transform:scaleX(0.7937);">Amplitude</span>
<span class="t" id="t38" style="left:695.40px;top:127px;font-size:13.04px;line-height:13.04px;color:#800000;-webkit-text-stroke-width:0.4px;transform:scaleX(0.8113);">Clock rate</span>
<span class="t" id="t39" style="left:790.00px;top:50px;font-size:13.04px;line-height:13.04px;color:#000;font-weight:bold;transform:scaleX(0.8869);">Temperature:</span>
<span class="t" id="t40" style="left:803.70px;top:71px;font-size:13.04px;line-height:13.04px;color:#000;font-weight:bold;transform:scaleX(0.8529);">Barometer:</span>
<span class="t" id="t41" style="left:813.00px;top:90px;font-size:13.04px;line-height:13.04px;color:#000;font-weight:bold;transform:scaleX(0.8320);">Humidity:</span>
<span class="t" id="t42" style="left:887.70px;top:51px;font-size:13.04px;line-height:13.04px;color:#000;-webkit-text-stroke-width:0.4px;transform:scaleX(0.8307);">63.72</span>
<span class="t" id="t43" style="left:887.70px;top:71px;font-size:13.04px;line-height:13.04px;color:#000;-webkit-text-stroke-width:0.4px;transform:scaleX(0.8307);">29.68</span>
<span class="t" id="t44" style="left:891.50px;top:91px;font-size:13.04px;line-height:13.04px;color:#000;-webkit-text-stroke-width:0.4px;transform:scaleX(0.7396);">85%</span>
<span class="t" id="t45" style="left:788.30px;top:128px;font-size:13.04px;line-height:13.04px;color:#000;-webkit-text-stroke-width:0.4px;transform:scaleX(0.8262);">+</span>
<span class="t" id="t46" style="left:828.30px;top:128px;font-size:13.04px;line-height:13.04px;color:#000;-webkit-text-stroke-width:0.4px;transform:scaleX(0.7981);">—</span>
<span class="t" id="t47" style="left:867.50px;top:128px;font-size:13.04px;line-height:13.04px;color:#000;-webkit-text-stroke-width:0.4px;transform:scaleX(0.8097);">Up</span>
<span class="t" id="t48" style="left:901.60px;top:128px;font-size:13.04px;line-height:13.04px;color:#000;-webkit-text-stroke-width:0.4px;transform:scaleX(0.8221);">Down</span>
<span class="t" id="t49" style="left:39.70px;top:150px;font-size:13.04px;line-height:13.04px;color:#000;-webkit-text-stroke-width:0.4px;transform:scaleX(0.8069);">Santa Barbara Courthouse Clock</span>
<span class="t" id="t50" style="left:101.70px;top:175px;font-size:13.04px;line-height:13.04px;color:#000;-webkit-text-stroke-width:0.4px;transform:scaleX(0.8138);">17.0 days shown</span>
<span class="t" id="t51" style="left:466.80px;top:175px;font-size:13.04px;line-height:13.04px;color:#000;font-weight:bold;transform:scaleX(0.8735);">FAST</span>
<span class="t" id="t52" style="left:466.80px;top:462px;font-size:13.04px;line-height:13.04px;color:#000;font-weight:bold;transform:scaleX(0.8876);">SLOW</span>
<span class="t" id="t53" style="left:94.40px;top:424px;font-size:13.04px;line-height:13.04px;color:#000;-webkit-text-stroke-width:0.4px;transform:scaleX(0.7911);">Day:</span>
<span class="t" id="t54" style="left:147.20px;top:423px;font-size:13.04px;line-height:13.04px;color:#000;-webkit-text-stroke-width:0.4px;transform:scaleX(0.7586);">18</span>
<span class="t" id="t55" style="left:191.20px;top:423px;font-size:13.04px;line-height:13.04px;color:#000;-webkit-text-stroke-width:0.4px;transform:scaleX(0.7586);">19</span>
<span class="t" id="t56" style="left:237.20px;top:423px;font-size:13.04px;line-height:13.04px;color:#000;-webkit-text-stroke-width:0.4px;transform:scaleX(0.7586);">20</span>
<span class="t" id="t57" style="left:281.20px;top:423px;font-size:13.04px;line-height:13.04px;color:#000;-webkit-text-stroke-width:0.4px;transform:scaleX(0.7586);">21</span>
<span class="t" id="t58" style="left:327.20px;top:423px;font-size:13.04px;line-height:13.04px;color:#000;-webkit-text-stroke-width:0.4px;transform:scaleX(0.7586);">22</span>
<span class="t" id="t59" style="left:371.20px;top:423px;font-size:13.04px;line-height:13.04px;color:#000;-webkit-text-stroke-width:0.4px;transform:scaleX(0.7586);">23</span>
<span class="t" id="t60" style="left:417.20px;top:423px;font-size:13.04px;line-height:13.04px;color:#000;-webkit-text-stroke-width:0.4px;transform:scaleX(0.7586);">24</span>
<span class="t" id="t61" style="left:461.20px;top:423px;font-size:13.04px;line-height:13.04px;color:#000;-webkit-text-stroke-width:0.4px;transform:scaleX(0.7586);">25</span>
<span class="t" id="t62" style="left:507.20px;top:423px;font-size:13.04px;line-height:13.04px;color:#000;-webkit-text-stroke-width:0.4px;transform:scaleX(0.7586);">26</span>
<span class="t" id="t63" style="left:551.20px;top:423px;font-size:13.04px;line-height:13.04px;color:#000;-webkit-text-stroke-width:0.4px;transform:scaleX(0.7586);">27</span>
<span class="t" id="t64" style="left:597.20px;top:423px;font-size:13.04px;line-height:13.04px;color:#000;-webkit-text-stroke-width:0.4px;transform:scaleX(0.7586);">28</span>
<span class="t" id="t65" style="left:641.20px;top:423px;font-size:13.04px;line-height:13.04px;color:#000;-webkit-text-stroke-width:0.4px;transform:scaleX(0.7586);">29</span>
<span class="t" id="t66" style="left:687.20px;top:423px;font-size:13.04px;line-height:13.04px;color:#000;-webkit-text-stroke-width:0.4px;transform:scaleX(0.7586);">30</span>
<span class="t" id="t67" style="left:731.20px;top:423px;font-size:13.04px;line-height:13.04px;color:#000;-webkit-text-stroke-width:0.4px;transform:scaleX(0.7586);">31</span>
<span class="t" id="t68" style="left:777.20px;top:423px;font-size:13.04px;line-height:13.04px;color:#000;-webkit-text-stroke-width:0.4px;transform:scaleX(0.7448);">1</span>
<span class="t" id="t69" style="left:821.20px;top:423px;font-size:13.04px;line-height:13.04px;color:#000;-webkit-text-stroke-width:0.4px;transform:scaleX(0.7448);">2</span>
<span class="t" id="t70" style="left:35.00px;top:462px;font-size:13.04px;line-height:13.04px;color:#000;-webkit-text-stroke-width:0.4px;transform:scaleX(0.7577);">1.56%</span>
<span class="t" id="t71" style="left:97.20px;top:462px;font-size:13.04px;line-height:13.04px;color:#000;-webkit-text-stroke-width:0.4px;transform:scaleX(0.8282);">Each grid line = 0.691 secs/day</span>
<span class="t" id="t72" style="left:51.10px;top:426px;font-size:13.04px;line-height:13.04px;color:#000;-webkit-text-stroke-width:0.4px;transform:scaleX(0.7310);">0</span>
<span class="t" id="t73" style="left:32.00px;top:187px;font-size:11.59px;line-height:11.59px;color:#000;font-weight:bold;transform:scaleX(1.0787);">1.249960</span>
<span class="t" id="t74" style="left:876.00px;top:187px;font-size:11.59px;line-height:11.59px;color:#000;font-weight:bold;transform:scaleX(1.0799);">30.52</span>
<span class="t" id="t75" style="left:32.00px;top:215px;font-size:11.59px;line-height:11.59px;color:#000;font-weight:bold;transform:scaleX(1.0787);">1.249970</span>
<span class="t" id="t76" style="left:876.00px;top:215px;font-size:11.59px;line-height:11.59px;color:#000;font-weight:bold;transform:scaleX(1.0799);">30.36</span>
<span class="t" id="t77" style="left:32.00px;top:244px;font-size:11.59px;line-height:11.59px;color:#000;font-weight:bold;transform:scaleX(1.0787);">1.249980</span>
<span class="t" id="t78" style="left:876.00px;top:244px;font-size:11.59px;line-height:11.59px;color:#000;font-weight:bold;transform:scaleX(1.0799);">30.20</span>
<span class="t" id="t79" style="left:32.00px;top:272px;font-size:11.59px;line-height:11.59px;color:#000;font-weight:bold;transform:scaleX(1.0787);">1.249990</span>
<span class="t" id="t80" style="left:876.00px;top:272px;font-size:11.59px;line-height:11.59px;color:#000;font-weight:bold;transform:scaleX(1.0799);">30.04</span>
<span class="t" id="t81" style="left:27.90px;top:299px;font-size:13.04px;line-height:13.04px;color:#000;font-weight:bold;transform:scaleX(0.9584);">1.250000</span>
<span class="t" id="t82" style="left:881.80px;top:298px;font-size:13.04px;line-height:13.04px;color:#000;font-weight:bold;transform:scaleX(0.9686);">29.88</span>
<span class="t" id="t83" style="left:32.00px;top:329px;font-size:11.59px;line-height:11.59px;color:#000;font-weight:bold;transform:scaleX(1.0787);">1.250010</span>
<span class="t" id="t84" style="left:876.00px;top:329px;font-size:11.59px;line-height:11.59px;color:#000;font-weight:bold;transform:scaleX(1.0799);">29.72</span>
<span class="t" id="t85" style="left:32.00px;top:357px;font-size:11.59px;line-height:11.59px;color:#000;font-weight:bold;transform:scaleX(1.0787);">1.250020</span>
<span class="t" id="t86" style="left:876.00px;top:357px;font-size:11.59px;line-height:11.59px;color:#000;font-weight:bold;transform:scaleX(1.0799);">29.56</span>
<span class="t" id="t87" style="left:32.00px;top:386px;font-size:11.59px;line-height:11.59px;color:#000;font-weight:bold;transform:scaleX(1.0787);">1.250030</span>
<span class="t" id="t88" style="left:876.00px;top:386px;font-size:11.59px;line-height:11.59px;color:#000;font-weight:bold;transform:scaleX(1.0799);">29.40</span>
<span class="t" id="t89" style="left:32.00px;top:414px;font-size:11.59px;line-height:11.59px;color:#000;font-weight:bold;transform:scaleX(1.0787);">1.250040</span>
<span class="t" id="t90" style="left:876.00px;top:414px;font-size:11.59px;line-height:11.59px;color:#000;font-weight:bold;transform:scaleX(1.0799);">29.24</span></div>
</body></html>
